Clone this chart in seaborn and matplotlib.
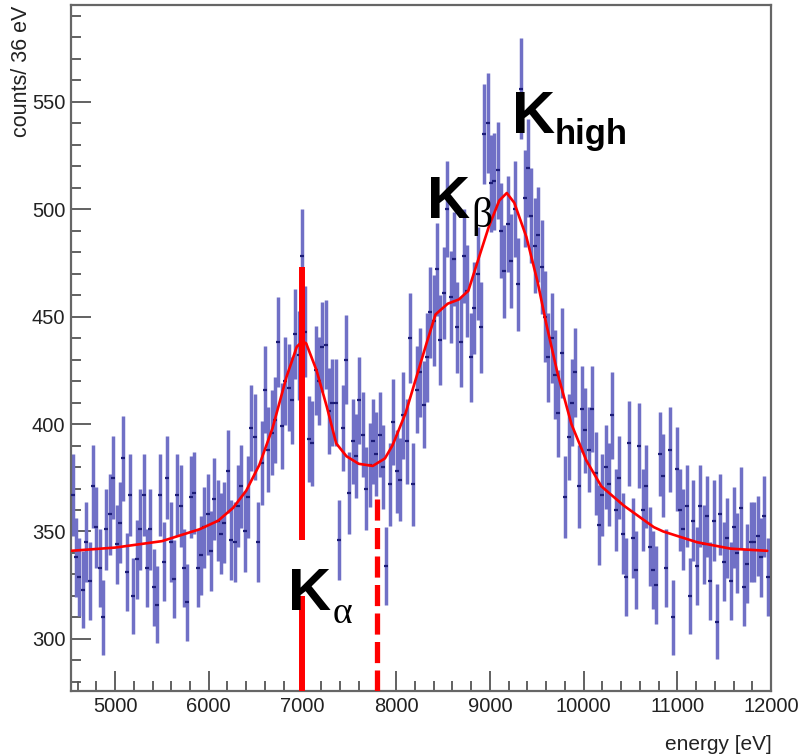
import numpy as np
import pandas as pd
import matplotlib
matplotlib.use("Agg")
import matplotlib.pyplot as plt
import seaborn as sns
from matplotlib.ticker import MultipleLocator

# histogram, 36 eV bins, counts
bin_lo = 4548
bin_width = 36
counts = [
    367, 338, 329, 323, 345, 327, 371, 352, 333, 310, 351, 358, 375, 344, 354,
    384, 331, 367, 320, 337, 351, 367, 333, 351, 324, 316, 367, 336, 375, 345,
    328, 367, 362, 333, 317, 366, 368, 333, 339, 352, 358, 341, 365,
    355, 349, 354, 378, 346, 345, 362, 371, 350, 366, 398, 394, 345, 382, 416,
    388, 396, 402, 438, 399, 420, 417, 411, 442, 432, 478, 443, 393, 391, 425,
    420, 436, 437, 406, 410, 410, 346, 398, 430, 368, 392, 385,
    411, 395, 370, 381, 392, 386, 395, 380, 334, 372, 401, 378, 374, 404, 392,
    440, 372, 416, 424, 409, 431, 452, 448, 472, 439, 461, 500, 459, 477, 445,
    438, 478, 462, 431, 454,
    470, 445, 535, 540, 512, 513, 518, 490, 471, 493, 476, 500, 465, 556, 505,
    519, 497, 483, 488, 473, 450, 431, 440, 423, 405, 433, 366, 394, 410, 424,
    371, 407, 397, 388, 407, 377, 353, 367, 380, 372, 404, 360, 375, 349, 329,
    391, 347, 332, 390, 360, 371, 343, 332, 325, 386, 376, 333, 388, 310, 379,
    360, 351, 362, 320, 355, 334, 362, 344, 357, 327, 355, 308, 358, 336, 347,
    327, 352, 340, 361, 324, 335, 345, 345, 348, 338, 357, 329,
]

# fit curve, sampled by eye
fit_energy = [4530, 5000, 5500, 5900, 6100, 6260, 6400, 6540, 6680, 6830,
              6940, 7000, 7040, 7150, 7260, 7360, 7470, 7600, 7750, 7880,
              7960, 8100, 8210, 8320, 8420, 8550, 8670, 8770, 8850, 8990,
              9100, 9180, 9260, 9390, 9510, 9600, 9720, 9870, 10030, 10190,
              10430, 10750, 10850, 11210, 11570, 11960]
fit_counts = [341, 342.5, 345.5, 351, 355, 361, 369, 381, 398, 422,
              436, 438.5, 437.5, 425, 408, 391, 385, 381.5, 380.5, 384,
              390, 405, 421, 437, 451, 456, 458, 462, 473, 492,
              504, 507.5, 503, 487, 466, 447, 424, 400, 383, 371,
              362, 352, 350, 345, 342, 341]

# marker lines
kalpha_e = 7000
kalpha_top = [473, 320]
kalpha_bottom = [346, 276]
shift_e = 7800
shift_range = [365, 276]

df = pd.DataFrame({"energy": bin_lo + bin_width * np.arange(len(counts)),
                   "counts": counts})
df["err"] = np.sqrt(df["counts"])

sns.set_style("white")
plt.rcParams['font.family'] = ['Liberation Sans', 'DejaVu Sans']

fig = plt.figure(figsize=(7.98, 7.56), dpi=100)
ax = fig.add_axes([71 / 798, 1 - 690.5 / 756, 700 / 798, 685.5 / 756])

ax.errorbar(df["energy"], df["counts"], yerr=df["err"], fmt="none",
            ecolor="#7070c6", elinewidth=2.5, capsize=0, zorder=2)
sns.scatterplot(data=df, x="energy", y="counts", marker="_", s=10,
                color="#1d1d78", linewidth=1.6, ax=ax, zorder=3, legend=False)
sns.lineplot(x=fit_energy, y=fit_counts, color="red", linewidth=1.9,
             sort=False, estimator=None, ax=ax, zorder=4)

for top, bot in zip(kalpha_top, kalpha_bottom):
    ax.plot([kalpha_e, kalpha_e], [top, bot], color="red", lw=4.3,
            solid_capstyle="butt", zorder=5)
ax.plot([shift_e, shift_e], shift_range, color="red", lw=3.8,
        dashes=(4, 1.4), zorder=5)

# peak labels
bold = dict(fontsize=43, fontweight="bold", va="baseline", ha="left",
            color="black", zorder=6)
greek = dict(family=["Liberation Serif", "DejaVu Serif"], va="baseline",
             ha="left", color="black", zorder=6)
ax.text(6850, 313.5, "K", **bold)
ax.text(7325, 307.5, "α", fontsize=27, **greek)
ax.text(8330, 496, "K", **bold)
ax.text(8805, 491.5, "β", fontsize=30, **greek)
ax.text(9240, 535.6, "K", **bold)
ax.text(9690, 530.5, "high", fontsize=25, fontweight="bold", color="black",
        va="baseline", ha="left", zorder=6)

ax.set_xlim(4530, 12000)
ax.set_ylim(276, 595)
ax.xaxis.set_major_locator(MultipleLocator(1000))
ax.xaxis.set_minor_locator(MultipleLocator(200))
ax.yaxis.set_major_locator(MultipleLocator(50))
ax.yaxis.set_minor_locator(MultipleLocator(10))
ax.set_xticks(range(5000, 12001, 1000))
ax.set_yticks(range(300, 551, 50))
ax.tick_params(axis="both", which="both", direction="in", color="#555555",
               width=1.3, labelsize=14.5, labelcolor="#222222",
               bottom=True, left=True, top=False, right=False)
ax.tick_params(axis="both", which="major", length=14.5)
ax.tick_params(axis="both", which="minor", length=7.5)
ax.tick_params(axis="y", pad=4)
ax.tick_params(axis="x", pad=5)
ax.set_xlabel("")
ax.set_ylabel("")
for sp in ax.spines.values():
    sp.set_color("#666666")
    sp.set_linewidth(1.6)

fig.text(22 / 798, 1 - 6 / 756, "counts/ 36 eV", rotation=90, ha="center",
         va="top", fontsize=15.5, color="#222222")
fig.text(772 / 798, 1 - 754 / 756, "energy [eV]", ha="right", va="bottom",
         fontsize=15, color="#222222")

fig.savefig("out.png", dpi=100)
